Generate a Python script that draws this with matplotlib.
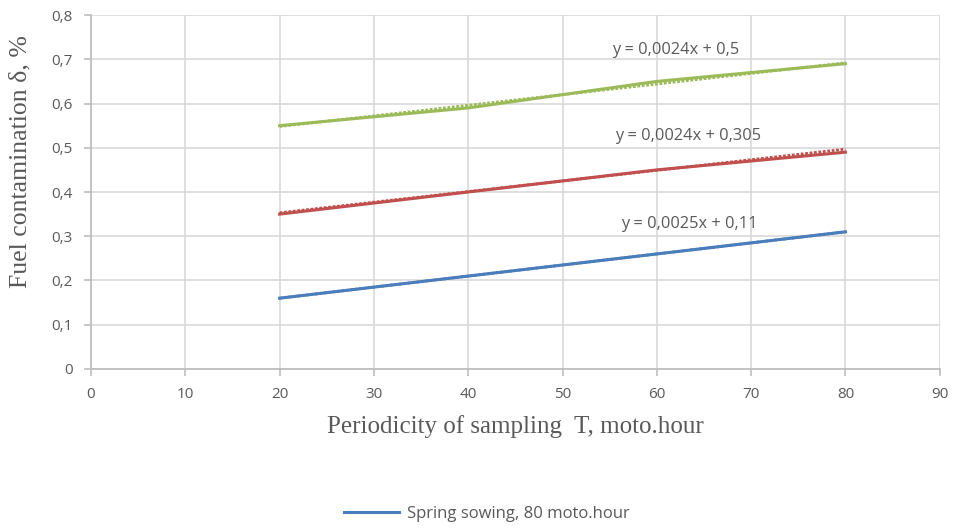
import numpy as np
from matplotlib import pyplot as plt

# Periodicity of sampling, moto.hour
T = [20, 40, 60, 80]

# Fuel contamination, %
spring = [0.16, 0.21, 0.26, 0.31]
red_series = [0.35, 0.40, 0.45, 0.49]
green_series = [0.55, 0.59, 0.65, 0.69]

# trend line coefficients (slope, intercept) as shown on the chart
trend_blue = (0.0025, 0.11)
trend_red = (0.0024, 0.305)
trend_green = (0.0024, 0.5)

eq_labels = ["y = 0,0025x + 0,11", "y = 0,0024x + 0,305", "y = 0,0024x + 0,5"]

x_ticks = [0, 10, 20, 30, 40, 50, 60, 70, 80, 90]
y_ticks = [0, 0.1, 0.2, 0.3, 0.4, 0.5, 0.6, 0.7, 0.8]

blue = '#4a7ebb'
red = '#c0504d'
green = '#9bbb59'
grey = '#595959'

fig = plt.figure(figsize=(9.55, 5.29), dpi=100)
ax = fig.add_axes([0.0953, 0.3025, 0.8887, 0.6691])

series = [(spring, blue, trend_blue), (red_series, red, trend_red), (green_series, green, trend_green)]
tx = np.array([T[0], T[-1]])
for vals, col, (k, b) in series:
    ax.plot(tx, k * tx + b, color=col, lw=2.0, ls=(0, (1, 0.6)), zorder=3)
    ax.plot(T, vals, color=col, lw=2.2, zorder=4)

# only the first series shows in the legend
ax.lines[1].set_label('Spring sowing, 80 moto.hour')

eq_pos = [(63.4, 0.328), (63.3, 0.527), (62.0, 0.721)]
for (px, py), s in zip(eq_pos, eq_labels):
    ax.text(px, py, s, fontsize=11.8, color=grey, family='Open Sans', ha='center', va='center')

ax.set_xlim(0, 90)
ax.set_ylim(0, 0.8)
ax.set_xticks(x_ticks)
ax.set_yticks(y_ticks)
ax.set_xticklabels([str(v) for v in x_ticks])
ax.set_yticklabels(['0' if v == 0 else ('%.1f' % v).replace('.', ',') for v in y_ticks])
ax.grid(True, color='#d9d9d9', lw=1.2)
ax.set_axisbelow(True)
for side in ['top', 'right']:
    ax.spines[side].set_visible(False)
for side in ['left', 'bottom']:
    ax.spines[side].set_color('#bfbfbf')
    ax.spines[side].set_linewidth(1.3)
ax.tick_params(colors='#bfbfbf', labelcolor=grey, labelsize=11, length=5, width=1.2, pad=8)
for lab in ax.get_xticklabels() + ax.get_yticklabels():
    lab.set_family('Open Sans')

ax.set_xlabel('Periodicity of sampling  T, moto.hour', family='Liberation Serif',
              fontsize=18, color=grey, labelpad=9)
ax.set_ylabel('Fuel contamination δ, %', family='Liberation Serif',
              fontsize=18.5, color=grey)
ax.yaxis.set_label_coords(-0.07, 0.585)

fig.legend(handles=[ax.lines[1]], loc='lower center', bbox_to_anchor=(0.51, -0.015),
           frameon=False, prop={'family': 'Open Sans', 'size': 12},
           labelcolor=grey, handlelength=3.3, handletextpad=0.5)

fig.savefig('out.png', dpi=100)
